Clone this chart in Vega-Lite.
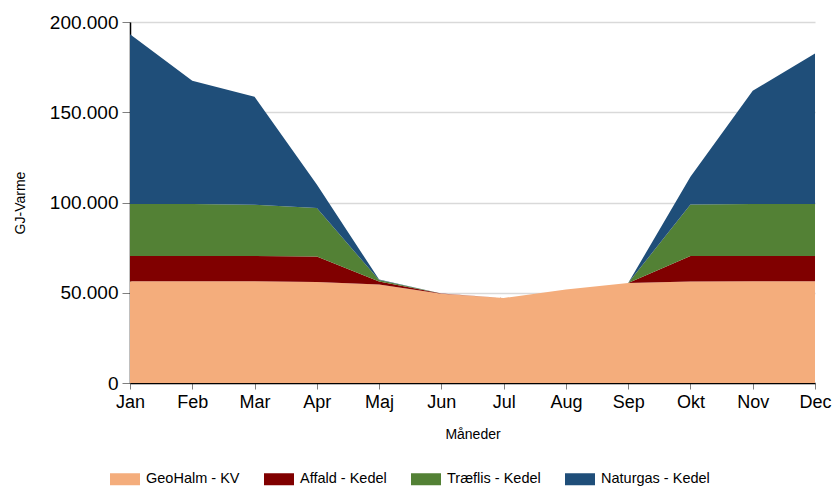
{
  "$schema": "https://vega.github.io/schema/vega-lite/v6.json",
  "width": 685,
  "height": 361,
  "autosize": {"type": "none"},
  "padding": {"left": 130, "top": 22, "right": 22, "bottom": 105},
  "background": "white",
  "data": {
    "values": [
      {"maaned": "Jan", "serie": "GeoHalm - KV", "k": 1, "gj": 56400},
      {"maaned": "Feb", "serie": "GeoHalm - KV", "k": 1, "gj": 56400},
      {"maaned": "Mar", "serie": "GeoHalm - KV", "k": 1, "gj": 56400},
      {"maaned": "Apr", "serie": "GeoHalm - KV", "k": 1, "gj": 56000},
      {"maaned": "Maj", "serie": "GeoHalm - KV", "k": 1, "gj": 54600},
      {"maaned": "Jun", "serie": "GeoHalm - KV", "k": 1, "gj": 49500},
      {"maaned": "Jul", "serie": "GeoHalm - KV", "k": 1, "gj": 47100},
      {"maaned": "Aug", "serie": "GeoHalm - KV", "k": 1, "gj": 51800},
      {"maaned": "Sep", "serie": "GeoHalm - KV", "k": 1, "gj": 55400},
      {"maaned": "Okt", "serie": "GeoHalm - KV", "k": 1, "gj": 56300},
      {"maaned": "Nov", "serie": "GeoHalm - KV", "k": 1, "gj": 56400},
      {"maaned": "Dec", "serie": "GeoHalm - KV", "k": 1, "gj": 56400},
      {"maaned": "Jan", "serie": "Affald - Kedel", "k": 2, "gj": 14000},
      {"maaned": "Feb", "serie": "Affald - Kedel", "k": 2, "gj": 14000},
      {"maaned": "Mar", "serie": "Affald - Kedel", "k": 2, "gj": 14000},
      {"maaned": "Apr", "serie": "Affald - Kedel", "k": 2, "gj": 14100},
      {"maaned": "Maj", "serie": "Affald - Kedel", "k": 2, "gj": 1600},
      {"maaned": "Jun", "serie": "Affald - Kedel", "k": 2, "gj": 100},
      {"maaned": "Jul", "serie": "Affald - Kedel", "k": 2, "gj": 0},
      {"maaned": "Aug", "serie": "Affald - Kedel", "k": 2, "gj": 0},
      {"maaned": "Sep", "serie": "Affald - Kedel", "k": 2, "gj": 0},
      {"maaned": "Okt", "serie": "Affald - Kedel", "k": 2, "gj": 14100},
      {"maaned": "Nov", "serie": "Affald - Kedel", "k": 2, "gj": 14000},
      {"maaned": "Dec", "serie": "Affald - Kedel", "k": 2, "gj": 14000},
      {"maaned": "Jan", "serie": "Træflis - Kedel", "k": 3, "gj": 28700},
      {"maaned": "Feb", "serie": "Træflis - Kedel", "k": 3, "gj": 28700},
      {"maaned": "Mar", "serie": "Træflis - Kedel", "k": 3, "gj": 28300},
      {"maaned": "Apr", "serie": "Træflis - Kedel", "k": 3, "gj": 26900},
      {"maaned": "Maj", "serie": "Træflis - Kedel", "k": 3, "gj": 800},
      {"maaned": "Jun", "serie": "Træflis - Kedel", "k": 3, "gj": 0},
      {"maaned": "Jul", "serie": "Træflis - Kedel", "k": 3, "gj": 0},
      {"maaned": "Aug", "serie": "Træflis - Kedel", "k": 3, "gj": 0},
      {"maaned": "Sep", "serie": "Træflis - Kedel", "k": 3, "gj": 0},
      {"maaned": "Okt", "serie": "Træflis - Kedel", "k": 3, "gj": 28500},
      {"maaned": "Nov", "serie": "Træflis - Kedel", "k": 3, "gj": 28700},
      {"maaned": "Dec", "serie": "Træflis - Kedel", "k": 3, "gj": 28700},
      {"maaned": "Jan", "serie": "Naturgas - Kedel", "k": 4, "gj": 94100},
      {"maaned": "Feb", "serie": "Naturgas - Kedel", "k": 4, "gj": 68400},
      {"maaned": "Mar", "serie": "Naturgas - Kedel", "k": 4, "gj": 59900},
      {"maaned": "Apr", "serie": "Naturgas - Kedel", "k": 4, "gj": 13000},
      {"maaned": "Maj", "serie": "Naturgas - Kedel", "k": 4, "gj": 300},
      {"maaned": "Jun", "serie": "Naturgas - Kedel", "k": 4, "gj": 0},
      {"maaned": "Jul", "serie": "Naturgas - Kedel", "k": 4, "gj": 0},
      {"maaned": "Aug", "serie": "Naturgas - Kedel", "k": 4, "gj": 0},
      {"maaned": "Sep", "serie": "Naturgas - Kedel", "k": 4, "gj": 0},
      {"maaned": "Okt", "serie": "Naturgas - Kedel", "k": 4, "gj": 15300},
      {"maaned": "Nov", "serie": "Naturgas - Kedel", "k": 4, "gj": 62800},
      {"maaned": "Dec", "serie": "Naturgas - Kedel", "k": 4, "gj": 83500}
    ]
  },
  "mark": {"type": "area", "interpolate": "linear"},
  "encoding": {
    "x": {
      "field": "maaned",
      "type": "ordinal",
      "sort": ["Jan", "Feb", "Mar", "Apr", "Maj", "Jun", "Jul", "Aug", "Sep", "Okt", "Nov", "Dec"],
      "scale": {"type": "point", "padding": 0},
      "axis": {
        "title": "Måneder",
        "titleFontSize": 14,
        "titleFontWeight": "normal",
        "titlePadding": 16,
        "labelFontSize": 18,
        "labelAngle": 0,
        "labelPadding": 4,
        "tickSize": 6,
        "grid": false
      }
    },
    "y": {
      "field": "gj",
      "type": "quantitative",
      "stack": "zero",
      "scale": {"domain": [0, 200000], "nice": false},
      "axis": {
        "title": "GJ-Varme",
        "titleFontSize": 14,
        "titleFontWeight": "normal",
        "titlePadding": 22,
        "values": [0, 50000, 100000, 150000, 200000],
        "labelExpr": "replace(format(datum.value, ','), ',', '.')",
        "labelFontSize": 19,
        "labelPadding": 4,
        "tickSize": 8,
        "grid": true
      }
    },
    "color": {
      "field": "serie",
      "type": "nominal",
      "scale": {
        "domain": ["GeoHalm - KV", "Affald - Kedel", "Træflis - Kedel", "Naturgas - Kedel"],
        "range": ["#F4AD7C", "#800000", "#538135", "#1F4E79"]
      },
      "legend": {
        "title": null,
        "orient": "none",
        "direction": "horizontal",
        "legendX": -20,
        "legendY": 442,
        "padding": 0,
        "symbolType": "M-1,-0.4H1V0.4H-1Z",
        "symbolSize": 900,
        "symbolStrokeWidth": 0,
        "symbolOpacity": 1,
        "labelFontSize": 14.5,
        "labelOffset": 6,
        "columnPadding": 24
      }
    },
    "order": {"field": "k", "type": "quantitative"}
  },
  "config": {
    "font": "Liberation Sans",
    "view": {"stroke": null},
    "axis": {
      "labelColor": "#000000",
      "titleColor": "#000000",
      "domainColor": "#000000",
      "domainWidth": 1.5,
      "tickColor": "#7f7f7f",
      "gridColor": "#d9d9d9",
      "gridWidth": 1.5,
      "labelFont": "Liberation Sans",
      "titleFont": "Liberation Sans"
    },
    "legend": {
      "labelColor": "#000000",
      "labelFont": "Liberation Sans"
    }
  }
}
